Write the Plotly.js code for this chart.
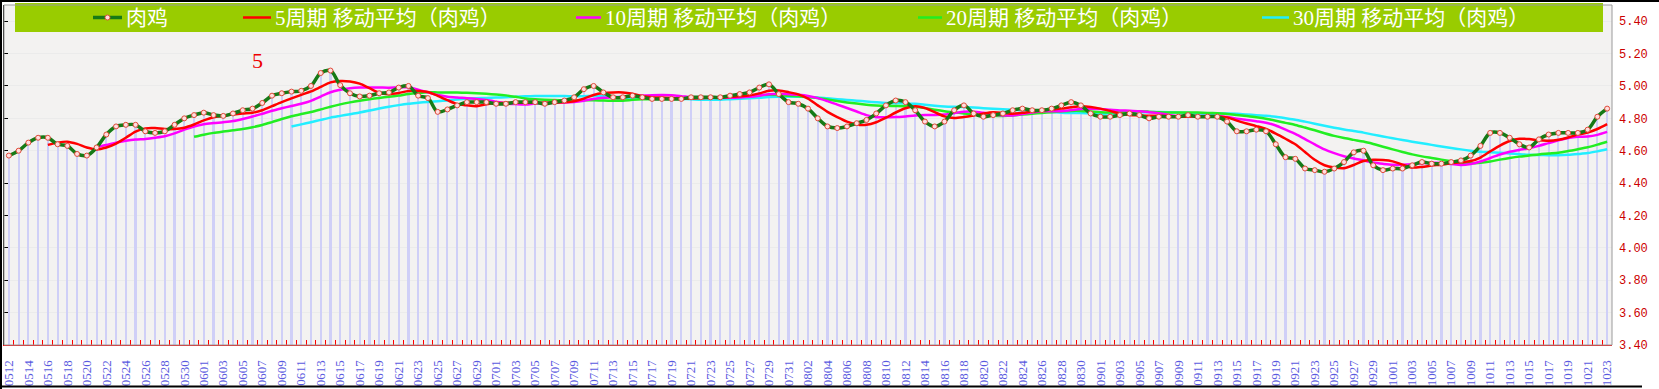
<!DOCTYPE html>
<html>
<head>
<meta charset="utf-8">
<script src="https://cdn.plot.ly/plotly-3.0.1.min.js"></script>
<style>
html,body{margin:0;padding:0;background:#fff;}
#chart{width:1659px;height:389px;}
</style>
</head>
<body>
<div id="chart"></div>
<script>
// ---- categories (dates, MMDD) ----
const dates = [
"0512","0513","0514","0515","0516","0517","0518","0519","0520","0521","0522","0523","0524","0525","0526","0527","0528","0529","0530","0531",
"0601","0602","0603","0604","0605","0606","0607","0608","0609","0610","0611","0612","0613","0614","0615","0616","0617","0618","0619","0620","0621","0622","0623","0624","0625","0626","0627","0628","0629","0630",
"0701","0702","0703","0704","0705","0706","0707","0708","0709","0710","0711","0712","0713","0714","0715","0716","0717","0718","0719","0720","0721","0722","0723","0724","0725","0726","0727","0728","0729","0730","0731",
"0801","0802","0803","0804","0805","0806","0807","0808","0809","0810","0811","0812","0813","0814","0815","0816","0817","0818","0819","0820","0821","0822","0823","0824","0825","0826","0827","0828","0829","0830","0831",
"0901","0902","0903","0904","0905","0906","0907","0908","0909","0910","0911","0912","0913","0914","0915","0916","0917","0918","0919","0920","0921","0922","0923","0924","0925","0926","0927","0928","0929","0930",
"1001","1002","1003","1004","1005","1006","1007","1008","1009","1010","1011","1012","1013","1014","1015","1016","1017","1018","1019","1020","1021","1022","1023"
];

// ---- 肉鸡 price series ----
const broilerMay = [4.57,4.60,4.65,4.68,4.68,4.64,4.63,4.58,4.57,4.62,4.70,4.75,4.76,4.76,4.72,4.71,4.72,4.76,4.80,4.82];
const broilerJun = [4.835,4.82,4.815,4.83,4.85,4.86,4.895,4.94,4.955,4.965,4.97,5.00,5.08,5.095,5.005,4.955,4.935,4.94,4.955,4.96,4.99,5.00,4.94,4.925,4.84,4.855,4.88,4.90,4.90,4.90];
const broilerJul = [4.89,4.89,4.90,4.90,4.90,4.89,4.90,4.91,4.93,4.98,5.00,4.96,4.93,4.93,4.94,4.93,4.92,4.92,4.92,4.92,4.93,4.93,4.93,4.93,4.94,4.95,4.96,4.99,5.01,4.95,4.90];
const broilerAug = [4.89,4.86,4.80,4.75,4.74,4.75,4.77,4.79,4.83,4.88,4.91,4.90,4.85,4.78,4.75,4.78,4.85,4.88,4.83,4.81,4.82,4.83,4.85,4.86,4.85,4.85,4.86,4.88,4.90,4.88,4.83];
const broilerSep = [4.81,4.81,4.82,4.83,4.82,4.80,4.81,4.81,4.81,4.82,4.81,4.81,4.81,4.78,4.72,4.72,4.73,4.72,4.64,4.56,4.55,4.49,4.48,4.47,4.49,4.53,4.59,4.60,4.51,4.48];
const broilerOct = [4.49,4.49,4.51,4.53,4.52,4.52,4.53,4.54,4.57,4.63,4.71,4.71,4.68,4.64,4.62,4.67,4.70,4.71,4.71,4.71,4.73,4.81,4.86];
const broiler = [].concat(broilerMay, broilerJun, broilerJul, broilerAug, broilerSep, broilerOct);

// ---- moving-average trendline periods ----
const maPeriods = [5, 10, 20, 30];
const maColors = ["#ff0000", "#ff00ff", "#22ee22", "#22eeff"];
const seriesName = "肉鸡";
const maNames = maPeriods.map(p => p + "周期 移动平均（肉鸡）");

// ---- y axis ticks ----
const yTicks = [3.4,3.6,3.8,4.0,4.2,4.4,4.6,4.8,5.0,5.2,5.4];
const yTickText = ["3.40","3.60","3.80","4.00","4.20","4.40","4.60","4.80","5.00","5.20","5.40"];
const xTickText = dates.map((d, i) => (i % 2 === 0 ? d : ""));

// trendline (moving average) as drawn by the original chart
function movingAverage(arr, n) {
  return arr.map((v, i) => {
    if (i < n - 1) return null;
    let s = 0;
    for (let k = i - n + 1; k <= i; k++) s += arr[k];
    return s / n;
  });
}

// geometry helpers (pixel -> paper)
const W = 1659, H = 389;
const M = {l: 4, r: 47, t: 5, b: 44};
const PW = W - M.l - M.r, PH = H - M.t - M.b;
const X = px => (px - M.l) / PW;
const Y = py => (H - M.b - py) / PH;

const traces = [];
traces.push({
  type: "bar", x: dates, y: broiler, width: 0.22,
  marker: {color: "#cfcff7", line: {width: 0}},
  showlegend: false, hoverinfo: "skip"
});
for (let k = maPeriods.length - 1; k >= 0; k--) {
  traces.push({
    type: "scatter", mode: "lines", x: dates, y: movingAverage(broiler, maPeriods[k]),
    name: maNames[k], line: {color: maColors[k], width: 2.5, shape: "spline", smoothing: 0.8},
    showlegend: false
  });
}
traces.push({
  type: "scatter", mode: "lines+markers", x: dates, y: broiler, name: seriesName,
  line: {color: "#167a16", width: 3.5, shape: "spline", smoothing: 1},
  marker: {size: 5, color: "#ffdede", line: {color: "#e04a3a", width: 1}},
  showlegend: false
});
// left axis carrier
traces.push({type: "scatter", mode: "lines", x: [dates[0]], y: [null], yaxis: "y2", showlegend: false, hoverinfo: "skip"});

const shapes = [];
const annotations = [];
// legend band
shapes.push({type: "rect", xref: "paper", yref: "paper", x0: X(15), x1: X(1603), y0: Y(32), y1: Y(3),
  fillcolor: "#99cc00", line: {width: 0}, layer: "above"});
const legendItems = [
  {x0: 93, x1: 122, tx: 124, color: "#167a16", w: 3.5, text: seriesName, marker: true},
  {x0: 243, x1: 271, tx: 273, color: maColors[0], w: 2.5, text: maNames[0]},
  {x0: 576, x1: 601, tx: 603, color: maColors[1], w: 2.5, text: maNames[1]},
  {x0: 918, x1: 942, tx: 944, color: maColors[2], w: 2.5, text: maNames[2]},
  {x0: 1262, x1: 1289, tx: 1291, color: maColors[3], w: 2.5, text: maNames[3]}
];
legendItems.forEach(it => {
  shapes.push({type: "line", xref: "paper", yref: "paper", x0: X(it.x0), x1: X(it.x1), y0: Y(17.5), y1: Y(17.5),
    line: {color: it.color, width: it.w}, layer: "above"});
  if (it.marker) {
    const cx = (it.x0 + it.x1) / 2;
    shapes.push({type: "circle", xref: "paper", yref: "paper", x0: X(cx - 2.5), x1: X(cx + 2.5), y0: Y(20), y1: Y(15),
      fillcolor: "#ffdede", line: {color: "#e04a3a", width: 1}, layer: "above"});
  }
  annotations.push({xref: "paper", yref: "paper", x: X(it.tx), y: Y(18), xanchor: "left", yanchor: "middle",
    text: it.text, showarrow: false, font: {family: "Liberation Serif, 'Noto Sans CJK SC'", size: 21, color: "#ffffff"}});
});
// red "5" label
annotations.push({xref: "paper", yref: "paper", x: X(257.5), y: Y(61), xanchor: "center", yanchor: "middle",
  text: "5", showarrow: false, font: {family: "Liberation Serif", size: 22, color: "#ee0000"}});
// plot frame (gray) and outer black border
shapes.push({type: "rect", xref: "paper", yref: "paper", x0: 0, x1: 1, y0: 0, y1: 1, line: {color: "#9a9a9a", width: 1}, layer: "above"});
shapes.push({type: "line", xref: "paper", yref: "paper", x0: X(0), x1: X(1659), y0: Y(1), y1: Y(1), line: {color: "#000", width: 2}});
shapes.push({type: "line", xref: "paper", yref: "paper", x0: X(1), x1: X(1), y0: Y(0), y1: Y(389), line: {color: "#000", width: 2}});
shapes.push({type: "line", xref: "paper", yref: "paper", x0: X(0), x1: X(1642), y0: Y(386.5), y1: Y(386.5), line: {color: "#000", width: 2}});

const yRange = [3.4, 5.5];
const layout = {
  width: W, height: H,
  margin: M,
  paper_bgcolor: "#ffffff",
  plot_bgcolor: "#f3f2f1",
  showlegend: false,
  bargap: 0,
  xaxis: {
    type: "category", range: [-0.5, dates.length - 0.5],
    tickmode: "array", tickvals: dates, ticktext: xTickText,
    tickson: "boundaries", ticks: "inside", ticklen: 5, tickcolor: "#ff0000", tickwidth: 1,
    tickangle: -90, tickfont: {family: "Liberation Serif", size: 13, color: "#5a5ae0"},
    ticklabelstandoff: 9,
    showline: true, linecolor: "#ff0000", linewidth: 1,
    showgrid: false, zeroline: false, fixedrange: true
  },
  yaxis: {
    side: "right", range: yRange, tickmode: "array", tickvals: yTicks, ticktext: yTickText,
    ticks: "", tickfont: {family: "Liberation Mono", size: 12, color: "#cc0000"},
    ticklabelstandoff: 6,
    showgrid: true, gridcolor: "#ebebeb", gridwidth: 1,
    showline: false, zeroline: false, fixedrange: true
  },
  yaxis2: {
    overlaying: "y", side: "left", range: yRange, tickmode: "array", tickvals: yTicks,
    showticklabels: false, ticks: "inside", ticklen: 4, tickcolor: "#000",
    showline: true, linecolor: "#000", linewidth: 1, showgrid: false, zeroline: false, fixedrange: true
  },
  shapes: shapes,
  annotations: annotations
};

Plotly.newPlot("chart", traces, layout, {displayModeBar: false, staticPlot: true});
</script>
</body>
</html>
